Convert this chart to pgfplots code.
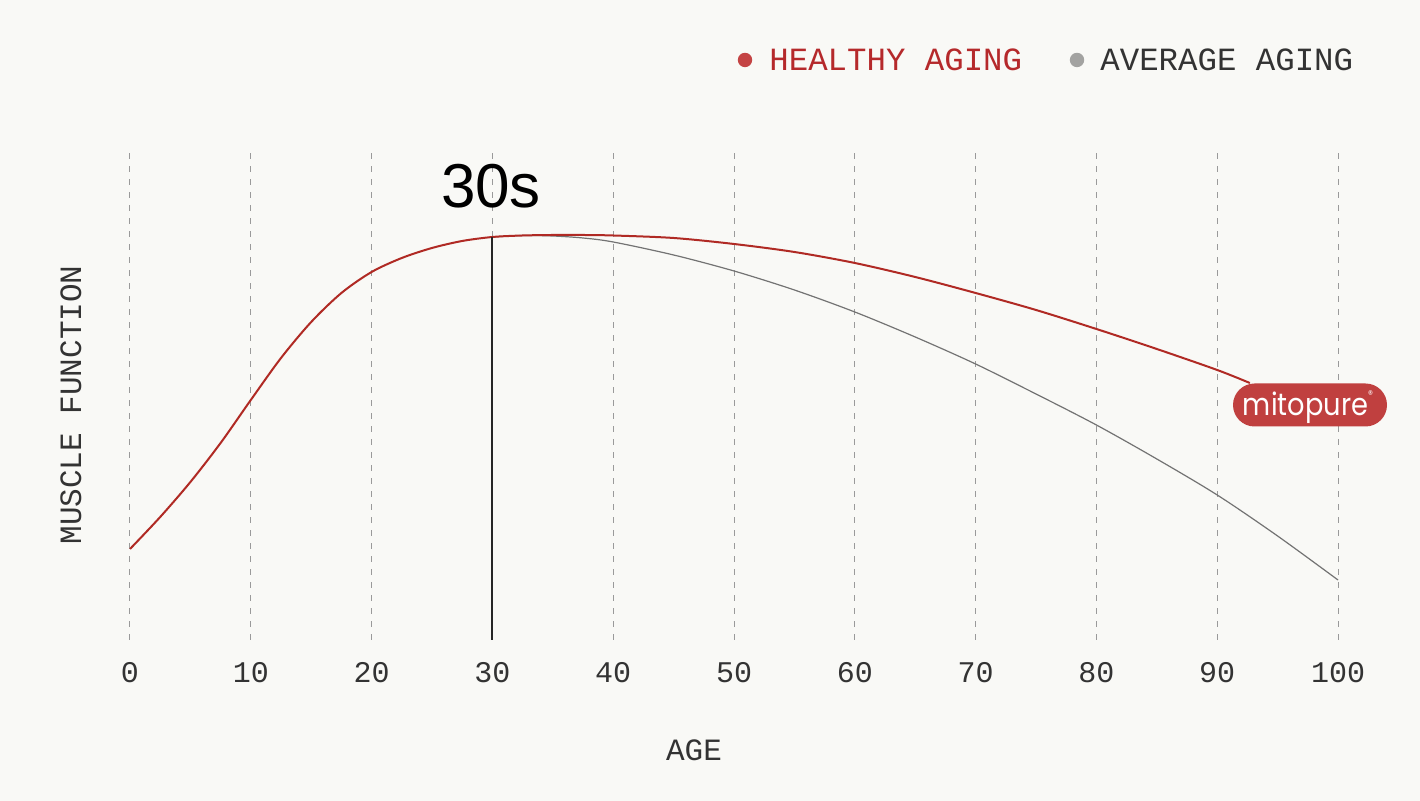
\documentclass[border=0pt]{standalone}
\usepackage{pgfplots}
\pgfplotsset{compat=1.18}
\usepackage{fontspec}
\setmainfont{Liberation Sans}
\newfontfamily\monof{Liberation Mono}
\newfontfamily\badgef{Poppins}
\definecolor{bg}{HTML}{F9F9F6}
\definecolor{healthy}{HTML}{B02A24}
\definecolor{healthytext}{HTML}{B5292B}
\definecolor{healthydot}{HTML}{C44444}
\definecolor{avg}{HTML}{737373}
\definecolor{avgdot}{HTML}{A3A3A1}
\definecolor{txt}{HTML}{333333}
\definecolor{badge}{HTML}{C0403F}
\definecolor{gridc}{HTML}{9A9A9A}
\begin{document}
\begin{tikzpicture}
\path[use as bounding box, fill=bg] (-65pt,-80.5pt) rectangle (645pt,320pt);
\begin{axis}[
  at={(0pt,0pt)}, anchor=south west,
  scale only axis, width=604pt, height=246pt,
  xmin=0, xmax=100, ymin=0, ymax=492,
  axis lines=none,
  clip=false,
]
% vertical dashed grid lines
\foreach \gx in {0,10,...,100} {
  \edef\tmp{\noexpand\draw[gridc, line width=0.5pt, dash pattern=on 3pt off 3.5pt] (axis cs:\gx,0) -- (axis cs:\gx,494);}
  \tmp
}
% average aging
\addplot[avg, line width=0.6pt, smooth, tension=0.5] coordinates {
 (30,403) (32.5,404.5) (35,404) (37.5,402) (40,398) (45,385) (50,369) (55,350) (60,328) (65,303) (70,276) (75,246) (80,215) (85,181) (90,145) (95,104) (100,60)
};
% healthy aging
\addplot[healthy, line width=1pt, smooth, tension=0.5] coordinates {
 (0,91) (2.5,123) (5,158) (7.5,197) (10,240) (12.5,282) (15,318) (17.5,347) (20,368) (22.5,382) (25,392) (27.5,399) (30,403) (32.5,404.5) (35,405) (37.5,405) (40,404.5) (45,402) (50,396) (55,388) (60,377) (65,363) (70,347) (75,330) (80,311) (85,291) (90,270) (92.7,257)
};
% 30s marker line
\addplot[black!85, line width=1pt] coordinates {(30,0) (30,403)};
% tick labels
\foreach \gx in {0,10,...,100} {
  \edef\tmp{\noexpand\node[txt, font=\noexpand\monof\noexpand\fontsize{15}{18}\noexpand\selectfont, anchor=center] at (axis cs:\gx,-33) {\gx};}
  \tmp
}
\end{axis}
% labels
\node[txt, font=\monof\fontsize{15.5}{18}\selectfont, rotate=90, anchor=center] at (-29.5pt,117.5pt) {MUSCLE FUNCTION};
\node[txt, font=\monof\fontsize{15.5}{18}\selectfont, anchor=center] at (282pt,-55pt) {AGE};
\node[black, font=\fontsize{31}{36}\selectfont, anchor=base] at (180.5pt,216pt) {30s};
% legend
\fill[healthydot] (307.5pt,290pt) circle (3.6pt);
\node[healthytext, font=\monof\fontsize{16.2}{18}\selectfont, anchor=west, inner sep=0pt] at (319.5pt,290pt) {HEALTHY AGING};
\fill[avgdot] (473.5pt,290pt) circle (3.6pt);
\node[txt, font=\monof\fontsize{16.2}{18}\selectfont, anchor=west, inner sep=0pt] at (485pt,290pt) {AVERAGE AGING};
% badge
\fill[badge, rounded corners=10.75pt] (551.5pt,106.75pt) rectangle (628.5pt,128.25pt);
\node[white, font=\badgef\fontsize{15.5}{17}\selectfont, anchor=center, inner sep=0pt, xscale=0.88] at (589pt,116.5pt) {mitopure\raisebox{1.0ex}{\fontsize{5.5}{5.5}\selectfont\textregistered}};
\end{tikzpicture}
\end{document}
